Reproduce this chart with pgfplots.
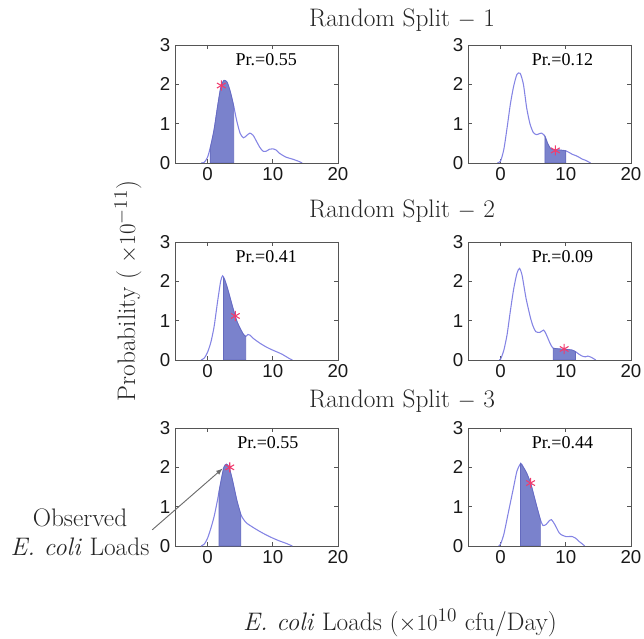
\documentclass[border=0pt]{standalone}
\usepackage{fontspec}
\usepackage{pgfplots}
\pgfplotsset{compat=1.18}
\newfontfamily\arialfont{Liberation Sans}
\newfontfamily\timesfont{Liberation Serif}
\definecolor{fillc}{RGB}{122,130,204}
\definecolor{fedge}{RGB}{100,106,190}
\definecolor{linec}{RGB}{132,132,228}
\definecolor{starc}{RGB}{240,60,110}
\definecolor{axc}{RGB}{85,85,85}
\pgfplotsset{
  panel/.style={scale only axis, width=122.25pt, height=88.5pt, anchor=south west,
    xmin=-5, xmax=20, ymin=0, ymax=3, xtick={0,10,20}, ytick={0,1,2,3},
    tick align=inside, major tick length=3pt,
    axis line style={axc, line width=0.7pt},
    every tick/.style={axc, line width=0.6pt},
    tick label style={font=\arialfont\fontsize{14}{14}\selectfont, text=black!90},
    /pgf/number format/assume math mode=true},
  curve/.style={linec, line width=0.8pt, smooth, tension=0.4, no marks},
  shade/.style={fill=fillc, draw=fedge, line width=0.5pt, smooth, tension=0.4, no marks},
  obs/.style={only marks, mark=asterisk, mark size=3.8pt, starc, mark options={line width=0.8pt}},
}
\newcommand{\pr}[2]{\node[font=\timesfont\fontsize{13.5}{13.5}\selectfont] at (rel axis cs:#1,0.88) {#2};}
\begin{document}
\begin{tikzpicture}
\path[use as bounding box] (0,0) rectangle (483pt,479.25pt);
% Row 1 left
\begin{axis}[panel, at={(131.25pt,357pt)}]
\addplot[curve] coordinates {(-1,0) (-0.5,0.02) (0,0.15) (0.5,0.45) (1,0.85) (1.5,1.4) (2,1.9) (2.5,2.1) (3,2.05) (3.5,1.8) (4,1.45) (4.5,1.05) (5,0.75) (5.5,0.64) (6,0.7) (6.5,0.76) (7,0.7) (7.5,0.55) (8,0.4) (8.5,0.3) (9,0.3) (9.5,0.35) (10,0.36) (10.5,0.33) (11,0.25) (12,0.15) (13,0.1) (14,0.04) (14.5,0)};
\addplot[shade] coordinates {(0.4,0.39) (0.5,0.45) (1,0.85) (1.5,1.4) (2,1.9) (2.5,2.1) (3,2.05) (3.5,1.8) (4,1.45)} \closedcycle;
\addplot[obs] coordinates {(2.1,1.97)};
\pr{0.56}{Pr.=0.55}
\end{axis}
% Row 1 right
\begin{axis}[panel, at={(351pt,357pt)}]
\addplot[curve] coordinates {(-0.5,0) (0,0.05) (0.5,0.35) (1,0.9) (1.5,1.5) (2,1.95) (2.5,2.25) (3,2.28) (3.5,2.0) (4,1.4) (4.5,1.0) (5,0.78) (5.5,0.72) (6,0.75) (6.3,0.76) (6.8,0.68) (7.2,0.5) (7.6,0.38) (8,0.34) (9,0.33) (10,0.31) (10.5,0.27) (11,0.22) (11.5,0.19) (12,0.15) (12.5,0.1) (13,0.07) (13.8,0)};
\addplot[shade] coordinates {(6.8,0.68) (7.2,0.5) (7.6,0.38) (8,0.34) (9,0.33) (10,0.31)} \closedcycle;
\addplot[obs] coordinates {(8.4,0.32)};
\pr{0.58}{Pr.=0.12}
\end{axis}
% Row 2 left
\begin{axis}[panel, at={(131.25pt,209.25pt)}]
\addplot[curve] coordinates {(-1,0) (-0.5,0.05) (0,0.2) (0.5,0.45) (1,0.85) (1.5,1.45) (2,2.0) (2.3,2.14) (2.6,2.05) (3,1.85) (3.5,1.55) (4,1.25) (4.5,0.98) (5,0.8) (5.5,0.65) (5.85,0.6) (6.2,0.65) (6.5,0.63) (7,0.55) (8,0.43) (9,0.33) (10,0.25) (11,0.18) (11.5,0.14) (12,0.09) (12.5,0.04) (13,0)};
\addplot[shade] coordinates {(2.45,2.09) (2.6,2.05) (3,1.85) (3.5,1.55) (4,1.25) (4.5,0.98) (5,0.8) (5.5,0.65) (5.85,0.6)} \closedcycle;
\addplot[obs] coordinates {(4.25,1.12)};
\pr{0.56}{Pr.=0.41}
\end{axis}
% Row 2 right
\begin{axis}[panel, at={(351pt,209.25pt)}]
\addplot[curve] coordinates {(-0.2,0) (0,0.02) (0.5,0.25) (1,0.65) (1.5,1.25) (2,1.8) (2.5,2.2) (2.9,2.33) (3.3,2.15) (3.9,1.57) (4.6,1.06) (5,0.85) (5.4,0.72) (6,0.7) (6.6,0.76) (7,0.65) (7.6,0.42) (8.05,0.3) (9,0.28) (10,0.27) (11,0.25) (11.5,0.21) (12,0.15) (12.5,0.1) (13,0.08) (13.4,0.1) (14,0.06) (14.6,0)};
\addplot[shade] coordinates {(8.05,0.3) (9,0.28) (10,0.27) (11,0.25) (11.5,0.21)} \closedcycle;
\addplot[obs] coordinates {(9.75,0.28)};
\pr{0.58}{Pr.=0.09}
\end{axis}
% Row 3 left
\begin{axis}[panel, at={(131.25pt,69.75pt)}, clip=false]
\addplot[curve] coordinates {(-1,0) (-0.5,0.05) (0,0.2) (0.5,0.45) (1,0.75) (1.5,1.15) (2,1.6) (2.5,2.0) (2.9,2.08) (3.3,2.0) (3.7,1.75) (4,1.53) (4.5,1.15) (5.1,0.8) (5.5,0.68) (6,0.58) (7,0.47) (8,0.37) (9,0.28) (10,0.2) (11,0.13) (12,0.07) (13,0)};
\addplot[shade] coordinates {(1.75,1.38) (2,1.6) (2.5,2.0) (2.9,2.08) (3.3,2.0) (3.7,1.75) (4,1.53) (4.5,1.15) (5.1,0.8)} \closedcycle;
\addplot[obs] coordinates {(3.4,2.0)};
\pr{0.57}{Pr.=0.55}
\draw[-{latex}, gray!85!black, line width=0.7pt] (axis cs:-8.5,0.41) -- (axis cs:2.3,1.97);
\end{axis}
% Row 3 right
\begin{axis}[panel, at={(351pt,69.75pt)}]
\addplot[curve] coordinates {(-0.3,0) (0,0.05) (0.5,0.3) (1,0.7) (1.5,1.1) (2,1.5) (2.5,1.9) (3.1,2.1) (3.5,2.0) (4,1.85) (4.6,1.6) (5,1.35) (5.6,0.97) (6.1,0.67) (6.5,0.52) (7,0.55) (7.5,0.65) (7.8,0.67) (8.3,0.55) (9,0.33) (9.5,0.27) (10,0.24) (11,0.24) (11.5,0.2) (12,0.12) (12.4,0.07) (12.9,0)};
\addplot[shade] coordinates {(3.05,2.1) (3.5,2.0) (4,1.85) (4.6,1.6) (5,1.35) (5.6,0.97) (6.1,0.67)} \closedcycle;
\addplot[obs] coordinates {(4.6,1.6)};
\pr{0.58}{Pr.=0.44}
\end{axis}
% titles and labels
\begin{scope}[every node/.style={font=\fontsize{19}{22}\selectfont, text=black!85}]
\node at (301.5pt,464.25pt) {Random Split $-$ 1};
\node at (301.5pt,321pt) {Random Split $-$ 2};
\node at (301.5pt,178.5pt) {Random Split $-$ 3};
\node[rotate=90] at (96pt,261pt) {Probability ( $\times10^{-11}$)};
\node at (300pt,12pt) {\textit{E. coli} Loads ($\times10^{10}$ cfu/Day)};
\node[align=center] at (60pt,80pt) {Observed\\\textit{E. coli} Loads};
\end{scope}
\end{tikzpicture}
\end{document}
